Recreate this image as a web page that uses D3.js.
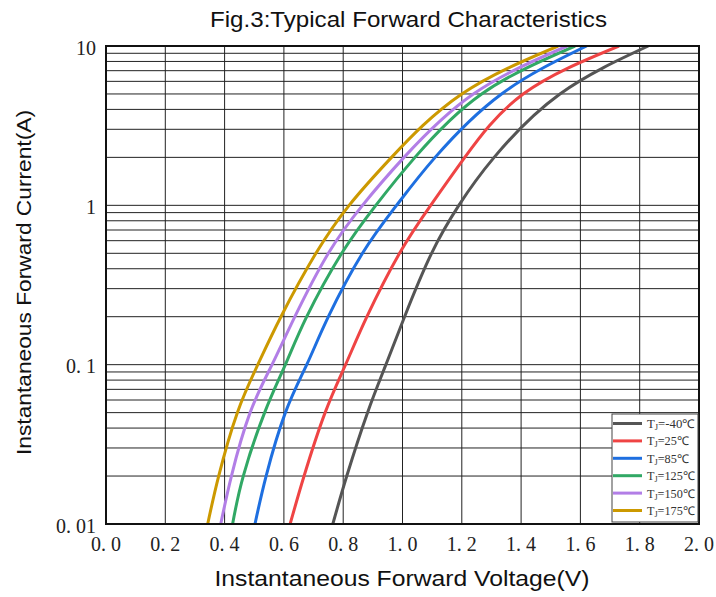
<!DOCTYPE html>
<meta charset="utf-8">
<style>
body { margin:0; background:#fff; }
</style>
<script src="https://d3js.org/d3.v7.min.js"></script>
<body>
<script>

var width = 716, height = 597
var margin = {left:106, right:17, top:46, bottom:73}

// current levels (A) at which the curves were read
var currents = [0.01,0.02,0.05,0.1,0.2,0.5,1,2,5,10]
// forward voltage (V) for each junction temperature
var vM40 = [0.765,0.812,0.882,0.944,1.007,1.098,1.19,1.309,1.531,1.829]
var v25  = [0.621,0.668,0.739,0.808,0.88,0.99,1.095,1.21,1.407,1.73]
var v85  = [0.5025,0.54,0.605,0.677,0.75,0.865,0.98,1.11,1.334,1.621]
var v125 = [0.427,0.463,0.535,0.605,0.677,0.795,0.91,1.042,1.267,1.582]
var v150 = [0.387,0.423,0.486,0.56,0.637,0.75,0.865,1.005,1.239,1.555]
var v175 = [0.343,0.38,0.443,0.512,0.59,0.708,0.82,0.963,1.2,1.525]

var labels = ['-40','25','85','125','150','175']
var colors = ['#555555','#ef4444','#1e6fe0','#31a865','#b27ee6','#cc9900']
var seriesV = [vM40,v25,v85,v125,v150,v175]

var xTicks = [0,0.2,0.4,0.6,0.8,1.0,1.2,1.4,1.6,1.8,2.0]
var yTicks = [0.01,0.1,1,10]
var yTickText = ['0. 01','0. 1','1','10']

var svg = d3.select("body").append("svg").attr("width",width).attr("height",height)

var x = d3.scaleLinear().domain([0,2]).range([margin.left, width-margin.right])
var y = d3.scaleLog().domain([0.01,10]).range([height-margin.bottom, margin.top])

// grid
var minor = []
;[0.01,0.1,1].forEach(d=>{ for (var k=1;k<=10;k++) minor.push(d*k) })
minor = Array.from(new Set(minor.map(d=>+d.toPrecision(3))))

svg.append("g").selectAll("line").data(minor).enter().append("line")
  .attr("x1", x(0)).attr("x2", x(2))
  .attr("y1", d=>y(d)).attr("y2", d=>y(d))
  .attr("stroke","#222").attr("stroke-width",1)

svg.append("g").selectAll("line").data(xTicks).enter().append("line")
  .attr("x1", d=>x(d)).attr("x2", d=>x(d))
  .attr("y1", y(0.01)).attr("y2", y(10))
  .attr("stroke","#222").attr("stroke-width",1)

// tick labels
svg.append("g").selectAll("text").data(xTicks).enter().append("text")
  .attr("x", d=>x(d)).attr("y", 551)
  .attr("text-anchor","middle")
  .style("font","20px 'Liberation Serif', serif").attr("fill","#222")
  .text(d=>d.toFixed(1).replace('.', '. '))

svg.append("g").selectAll("text").data(yTicks).enter().append("text")
  .attr("x", 96).attr("y", d=>y(d)+8.5)
  .attr("text-anchor","end")
  .style("font","20px 'Liberation Serif', serif").attr("fill","#222")
  .text((d,i)=>yTickText[i])

// curves
svg.append("clipPath").attr("id","clip").append("rect")
  .attr("x",x(0)).attr("y",y(10)).attr("width",x(2)-x(0)).attr("height",y(0.01)-y(10))

var line = d3.line()
  .x(d=>x(d[0])).y(d=>y(d[1]))
  .curve(d3.curveNatural)

seriesV.forEach((vs,i)=>{
  svg.append("path")
    .datum(vs.map((v,j)=>[v,currents[j]]))
    .attr("clip-path","url(#clip)")
    .attr("fill","none").attr("stroke",colors[i]).attr("stroke-width",3)
    .attr("d",line)
})

// frame
svg.append("rect")
  .attr("x",x(0)).attr("y",y(10)).attr("width",x(2)-x(0)).attr("height",y(0.01)-y(10))
  .attr("fill","none").attr("stroke","#111").attr("stroke-width",2)

// legend
var lg = svg.append("g").attr("transform","translate(612,414)")
lg.append("rect").attr("width",86).attr("height",108)
  .attr("fill","#fff").attr("stroke","#444").attr("stroke-width",1)

var widths = [48,42,42,48,48,48]
labels.forEach((t,i)=>{
  var yy = 9.5 + i*17.4
  lg.append("line").attr("x1",1).attr("x2",30).attr("y1",yy).attr("y2",yy)
    .attr("stroke",colors[i]).attr("stroke-width",3)
  var tx = lg.append("text").attr("x",35).attr("y",yy+4.5)
    .attr("textLength",widths[i]).attr("lengthAdjust","spacingAndGlyphs")
    .style("font","12px 'Liberation Serif', serif").attr("fill","#333")
  tx.append("tspan").text("T")
  tx.append("tspan").attr("dy",2).style("font-size","8px").text("J")
  tx.append("tspan").attr("dy",-2).text("=" + t + "℃")
})

// titles
svg.append("text").attr("x",408.5).attr("y",27).attr("text-anchor","middle")
  .attr("textLength",397).attr("lengthAdjust","spacingAndGlyphs")
  .style("font","22px 'Liberation Sans', Arial, sans-serif").attr("fill","#111")
  .text("Fig.3:Typical Forward Characteristics")

svg.append("text").attr("x",402).attr("y",586).attr("text-anchor","middle")
  .attr("textLength",375).attr("lengthAdjust","spacingAndGlyphs")
  .style("font","22px 'Liberation Sans', Arial, sans-serif").attr("fill","#111")
  .text("Instantaneous Forward Voltage(V)")

svg.append("text").attr("transform","translate(31,282.5) rotate(-90)").attr("text-anchor","middle")
  .attr("textLength",345).attr("lengthAdjust","spacingAndGlyphs")
  .style("font","21px 'Liberation Sans', Arial, sans-serif").attr("fill","#111")
  .text("Instantaneous Forward Current(A)")

</script>
